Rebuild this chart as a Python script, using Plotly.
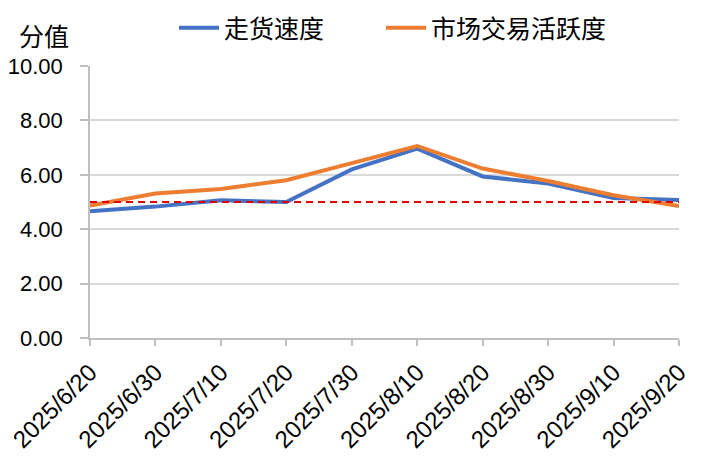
import plotly.graph_objects as go

dates = ["2025/6/20", "2025/6/30", "2025/7/10", "2025/7/20", "2025/7/30",
         "2025/8/10", "2025/8/20", "2025/8/30", "2025/9/10", "2025/9/20"]
speed = [4.66, 4.83, 5.06, 5.00, 6.20, 6.96, 5.94, 5.68, 5.15, 5.07]
activity = [4.87, 5.31, 5.48, 5.80, 6.43, 7.06, 6.23, 5.77, 5.25, 4.85]
baseline = 5.0
y_ticks = [0, 2, 4, 6, 8, 10]

font_num = "Liberation Sans, Arial"
font_cjk = "Noto Sans CJK SC"

W, H = 704, 461
L, R, T, B = 82, 33, 58, 131
PW, PH = W - L - R, H - T - B

fig = go.Figure()
fig.add_trace(go.Scatter(x=dates, y=speed, mode="lines", name="走货速度",
                         line=dict(color="#4472C4", width=4), legend="legend"))
fig.add_trace(go.Scatter(x=dates, y=activity, mode="lines", name="市场交易活跃度",
                         line=dict(color="#ED7D31", width=4), legend="legend2"))
fig.add_trace(go.Scatter(x=dates, y=[baseline] * len(dates), mode="lines",
                         showlegend=False,
                         line=dict(color="#E00000", width=2, dash="7px,5px")))

legend_common = dict(orientation="h", xanchor="left", yanchor="middle",
                     y=1 + (T - 20) / PH,
                     font=dict(family=font_cjk, size=25, color="#000000"),
                     itemwidth=40, bgcolor="rgba(0,0,0,0)")

fig.update_layout(
    width=W, height=H,
    margin=dict(l=L, r=R, t=T, b=B, autoexpand=False),
    paper_bgcolor="white", plot_bgcolor="white",
    legend=dict(x=(166 - L) / PW, **legend_common),
    legend2=dict(x=(373 - L) / PW, **legend_common),
    annotations=[dict(text="分值", xref="paper", yref="paper", x=(9 - L) / PW,
                      y=1 + (T - 27) / PH,
                      xanchor="left", yanchor="middle", showarrow=False,
                      font=dict(family=font_cjk, size=25, color="#000000"))],
)
fig.update_xaxes(type="category", range=[0, len(dates) - 1], automargin=False,
                 tickangle=-45, ticks="outside", ticklen=6, tickcolor="#BFBFBF",
                 tickwidth=1.5, ticklabelstandoff=3,
                 showline=True, linecolor="#BFBFBF", linewidth=1.5,
                 showgrid=False,
                 tickfont=dict(family=font_num, size=24, color="#000000"))
fig.update_yaxes(range=[0, 10], tickvals=y_ticks, ticktext=[f"{v:.2f}" for v in y_ticks],
                 automargin=False,
                 ticks="outside", ticklen=8, tickcolor="#BFBFBF", tickwidth=1.5,
                 ticklabelstandoff=13,
                 showline=True, linecolor="#BFBFBF", linewidth=1.5,
                 showgrid=True, gridcolor="#D9D9D9", gridwidth=1.5,
                 zeroline=False,
                 tickfont=dict(family=font_num, size=22, color="#000000"))

fig.write_html("out.html")
